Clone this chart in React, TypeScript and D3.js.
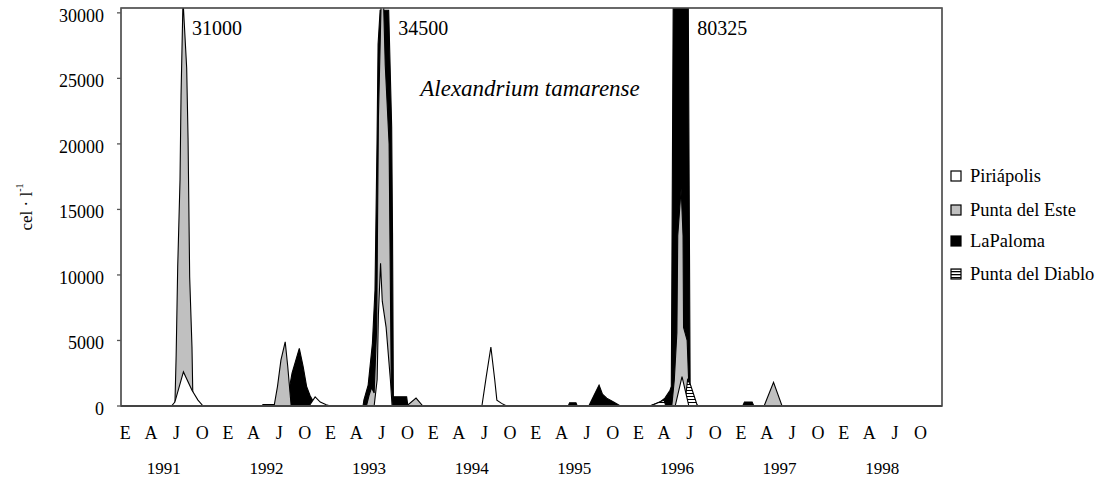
import React from 'react'
import * as d3 from 'd3'

type Pt = [number, number] // [months since Jan 1991, cells per litre]

const piriapolis: Pt[] = [
  [5.9, 0], [6.3, 300], [7.3, 2600], [8.3, 1200], [9.0, 450], [9.6, 0],
  [22.0, 0], [22.7, 700], [23.3, 300], [24.0, 100], [24.5, 0],
  [29.6, 0], [29.95, 2000], [30.1, 7000], [30.35, 10900], [30.55, 8000], [31.0, 6000], [31.5, 2000], [31.7, 0],
  [42.2, 0], [42.7, 2200], [43.25, 4500], [43.7, 2000], [43.95, 450], [44.5, 200], [45.1, 0],
  [64.8, 0], [65.6, 2250], [66.4, 0]
]

const puntaEste: Pt[] = [
  [6.3, 0], [6.45, 3900], [6.63, 10600], [6.9, 17250], [7.02, 23700], [7.13, 27200], [7.25, 31000],
  [7.68, 25800], [7.84, 20450], [8.03, 9850], [8.3, 4500], [8.42, 0],
  [17.9, 0], [18.3, 1500], [18.7, 3500], [19.2, 4900], [19.5, 3000], [19.9, 0],
  [28.7, 0], [29.0, 800], [29.3, 1400], [29.6, 1000], [29.9, 6000], [30.1, 22000], [30.55, 34500],
  [30.9, 26000], [31.35, 20000], [31.6, 1700], [31.8, 0],
  [33.4, 0], [34.5, 600], [35.3, 0],
  [64.4, 0], [64.7, 2000], [65.0, 5600], [65.1, 13000], [65.5, 16600], [65.72, 13000], [65.78, 6000],
  [66.2, 5000], [66.4, 1500], [66.6, 0],
  [75.2, 0], [76.3, 1800], [77.3, 0]
]

const laPaloma: Pt[] = [
  [16.5, 0], [16.6, 120], [18.0, 120], [19.4, 300], [20.0, 2500], [20.85, 4400], [21.3, 3000],
  [21.7, 1500], [22.1, 800], [22.6, 200], [23.0, 0],
  [28.3, 0], [28.4, 450], [28.9, 1600], [29.4, 4800], [29.7, 8850], [29.94, 20300], [30.06, 27600],
  [30.3, 30200], [31.3, 30200], [31.65, 21300], [31.75, 13200], [31.85, 700], [33.4, 700], [33.55, 0],
  [52.3, 0], [52.45, 250], [53.2, 250], [53.35, 0],
  [54.7, 0], [55.3, 800], [55.9, 1600], [56.3, 900], [56.8, 600], [57.6, 300], [58.4, 0],
  [61.8, 0], [63.0, 300], [63.6, 600], [64.2, 1200], [64.35, 1500], [64.6, 35000], [65.5, 80325],
  [66.3, 35000], [66.55, 1500], [67.0, 300], [67.5, 0],
  [72.7, 0], [72.9, 300], [73.8, 300], [74.0, 0]
]

const puntaDiablo: Pt[] = [
  [61.9, 0], [62.8, 250], [63.5, 450], [63.7, 0],
  [65.9, 0], [66.25, 2000], [66.6, 1600], [67.0, 800], [67.4, 0]
]

const quarterLabels = ['E', 'A', 'J', 'O']
const years = [1991, 1992, 1993, 1994, 1995, 1996, 1997, 1998]
const yTicks = [0, 5000, 10000, 15000, 20000, 25000, 30000]

// off-scale peaks written beside their spikes
const peakNotes = [
  { t: 7.25, text: '31000', dx: 9 },
  { t: 30.55, text: '34500', dx: 16 },
  { t: 65.5, text: '80325', dx: 16 }
]

const legendNames = ['Piriápolis', 'Punta del Este', 'LaPaloma', 'Punta del Diablo']

const W = 1119
const H = 477
const plot = { left: 121, right: 942, top: 8, bottom: 406 }
const font = '"Liberation Serif", "Times New Roman", serif'

export default function App() {
  const x = d3.scaleLinear().domain([0, 96]).range([plot.left, plot.right])
  const y = d3.scaleLinear().domain([0, 30370]).range([plot.bottom, plot.top])

  const area = d3.area<Pt>()
    .x(d => x(d[0]))
    .y0(y(0))
    .y1(d => y(d[1]))

  const series = [
    { data: laPaloma, fill: '#000', stroke: '#000' },
    { data: puntaEste, fill: '#c0c0c0', stroke: '#000' },
    { data: puntaDiablo, fill: 'url(#stripes)', stroke: '#000' },
    { data: piriapolis, fill: '#fff', stroke: '#000' }
  ]
  const legendFills = ['#fff', '#c0c0c0', '#000', 'url(#stripesSmall)']
  const legendY = [176, 210, 241, 274]

  const quarters = years.flatMap((yr, i) => quarterLabels.map((q, j) => ({ q, m: i * 12 + j * 3 })))

  return (
    <svg width={W} height={H} style={{ position: 'absolute', left: 0, top: 0, background: '#fff' }}
      fontFamily={font}>
      <defs>
        <clipPath id="plotClip">
          <rect x={plot.left} y={plot.top} width={plot.right - plot.left} height={plot.bottom - plot.top} />
        </clipPath>
        <pattern id="stripes" width={4} height={3} patternUnits="userSpaceOnUse">
          <rect width={4} height={3} fill="#fff" />
          <rect width={4} height={1} fill="#000" />
        </pattern>
        <pattern id="stripesSmall" width={4} height={3} patternUnits="userSpaceOnUse" y={1}>
          <rect width={4} height={3} fill="#fff" />
          <rect width={4} height={1.3} fill="#000" />
        </pattern>
      </defs>

      <rect x={plot.left} y={plot.top} width={plot.right - plot.left} height={plot.bottom - plot.top}
        fill="#fff" stroke="#555" strokeWidth={1.3} />

      <g clipPath="url(#plotClip)">
        {series.map((s, i) => (
          <path key={i} d={area(s.data) || ''} fill={s.fill} stroke={s.stroke} strokeWidth={1.1}
            strokeLinejoin="miter" />
        ))}
      </g>

      {/* frame and axis */}
      <rect x={plot.left} y={plot.top} width={plot.right - plot.left} height={plot.bottom - plot.top}
        fill="none" stroke="#555" strokeWidth={1.3} />
      <line x1={plot.left} x2={plot.right} y1={plot.bottom} y2={plot.bottom} stroke="#444" strokeWidth={2} />

      {yTicks.map(t => (
        <g key={t}>
          <line x1={plot.left - 4} x2={plot.left} y1={y(t)} y2={y(t)} stroke="#555" strokeWidth={1.3} />
          <text x={plot.left - 17} y={y(t) + 3} textAnchor="end" dominantBaseline="central" fontSize={18}>
            {t}
          </text>
        </g>
      ))}

      {quarters.map((d, i) => (
        <text key={i} x={x(d.m + 0.5)} y={433} textAnchor="middle" dominantBaseline="central" fontSize={18}>
          {d.q}
        </text>
      ))}
      {years.map((yr, i) => (
        <text key={yr} x={x(i * 12 + 5)} y={468} textAnchor="middle" dominantBaseline="central" fontSize={17}>
          {yr}
        </text>
      ))}

      <text transform={`translate(26,${(plot.top + plot.bottom) / 2}) rotate(-90)`} textAnchor="middle"
        dominantBaseline="central" fontSize={17}>
        cel · l<tspan dy={-7} fontSize={10}>-1</tspan>
      </text>

      <text x={530} y={88} textAnchor="middle" dominantBaseline="central" fontSize={23} fontStyle="italic">
        Alexandrium tamarense
      </text>

      {peakNotes.map(n => (
        <text key={n.text} x={x(n.t) + n.dx} y={28} dominantBaseline="central" fontSize={20}>
          {n.text}
        </text>
      ))}

      {legendNames.map((name, i) => (
        <g key={name}>
          <rect x={951} y={legendY[i] - 5} width={10} height={10} fill={legendFills[i]} stroke="#000"
            strokeWidth={1.2} />
          <text x={970} y={legendY[i]} dominantBaseline="central" fontSize={18.5}>{name}</text>
        </g>
      ))}
    </svg>
  )
}
